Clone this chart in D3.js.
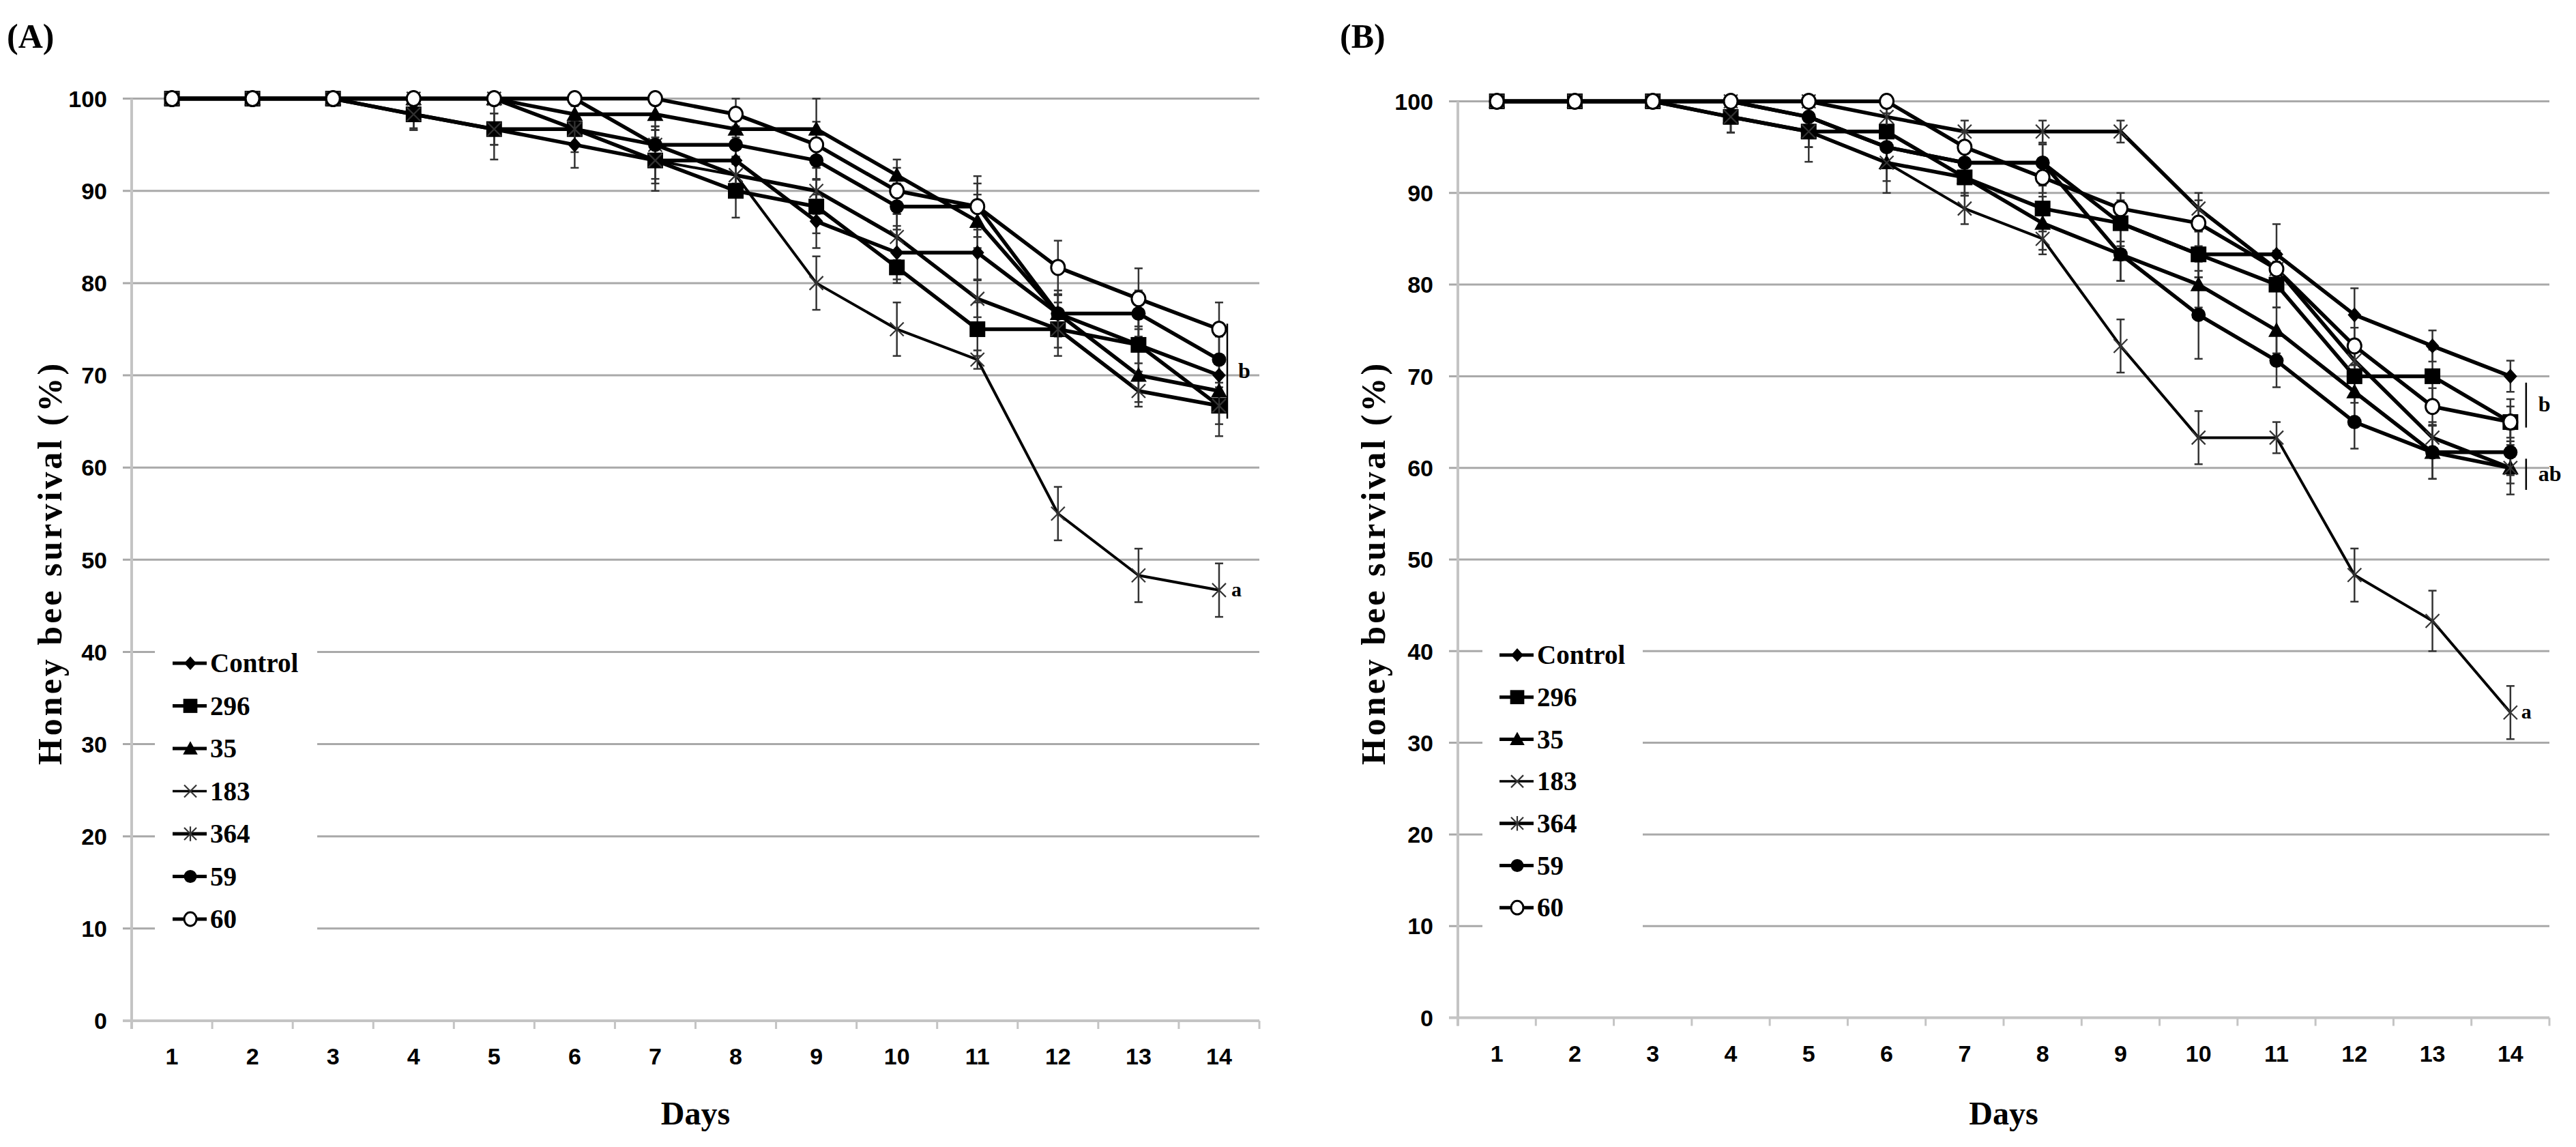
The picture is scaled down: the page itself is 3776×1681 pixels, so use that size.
<!DOCTYPE html>
<html><head><meta charset="utf-8">
<script src="https://cdn.jsdelivr.net/npm/d3@7"></script>
<style>body{margin:0;background:#fff} svg{display:block}</style>
</head><body><svg id="c" width="3776" height="1681"></svg>
<script>
// ---------- DATA ----------
const days = [1,2,3,4,5,6,7,8,9,10,11,12,13,14];
const yTicks = [0,10,20,30,40,50,60,70,80,90,100];
const seriesNames = ["Control","296","35","183","364","59","60"];

// Panel A survival (%)
const A_Control = [100,100,100,98.3,96.7,95,93.3,93.3,86.7,83.3,83.3,76.7,73.3,70];
const A_296     = [100,100,100,98.3,96.7,96.7,93.3,90,88.3,81.7,75,75,73.3,66.7];
const A_35      = [100,100,100,100,100,98.3,98.3,96.7,96.7,91.7,86.7,76.7,70,68.3];
const A_183     = [100,100,100,98.3,96.7,96.7,93.3,91.7,80,75,71.7,55,48.3,46.7];
const A_364     = [100,100,100,100,100,96.7,95,91.7,90,85,78.3,75,68.3,66.7];
const A_59      = [100,100,100,100,100,100,95,95,93.3,88.3,88.3,76.7,76.7,71.7];
const A_60      = [100,100,100,100,100,100,100,98.3,95,90,88.3,81.7,78.3,75];
// Panel A error (SE)
const A_Control_err = [0,0,0,1.7,1.7,2.5,2.5,2.5,2.9,2.9,2.9,2.0,2.0,1.7];
const A_296_err     = [0,0,0,1.5,3.3,2.5,3.3,2.9,2.9,1.7,2.9,2.9,2.9,3.3];
const A_35_err      = [0,0,0,0,0,1.7,1.7,1.7,3.3,1.7,2.9,2.0,2.9,2.0];
const A_183_err     = [0,0,0,1.7,1.7,1.7,2.0,2.0,2.9,2.9,1.0,2.9,2.9,2.9];
const A_364_err     = [0,0,0,0,0,1.7,2.0,2.0,2.5,2.5,2.0,2.0,1.7,2.0];
const A_59_err      = [0,0,0,0,0,0,2.0,2.0,2.0,2.5,2.5,2.5,2.5,2.5];
const A_60_err      = [0,0,0,0,0,0,0,1.7,2.5,2.5,3.3,2.9,3.3,2.9];

// Panel B survival (%)
const B_Control = [100,100,100,100,98.3,95,93.3,93.3,86.7,83.3,83.3,76.7,73.3,70];
const B_296     = [100,100,100,98.3,96.7,96.7,91.7,88.3,86.7,83.3,80,70,70,65];
const B_35      = [100,100,100,98.3,96.7,93.3,91.7,86.7,83.3,80,75,68.3,61.7,60];
const B_183     = [100,100,100,98.3,96.7,93.3,88.3,85,73.3,63.3,63.3,48.3,43.3,33.3];
const B_364     = [100,100,100,100,100,98.3,96.7,96.7,96.7,88.3,81.7,71.7,63.3,60];
const B_59      = [100,100,100,100,98.3,95,93.3,93.3,83.3,76.7,71.7,65,61.7,61.7];
const B_60      = [100,100,100,100,100,100,95,91.7,88.3,86.7,81.7,73.3,66.7,65];
// Panel B error (SE)
const B_Control_err = [0,0,0,0,1.7,1.7,2.0,2.0,2.0,2.5,3.3,2.9,1.7,1.7];
const B_296_err     = [0,0,0,1.7,3.3,2.0,2.0,2.5,2.5,2.5,2.5,2.9,2.9,2.5];
const B_35_err      = [0,0,0,1.7,1.7,3.3,2.0,2.9,2.9,2.5,2.5,2.9,2.9,2.9];
const B_183_err     = [0,0,0,1.7,1.7,2.0,1.7,1.7,2.9,2.9,1.7,2.9,3.3,2.9];
const B_364_err     = [0,0,0,0,0,1.7,1.2,1.2,1.2,1.7,1.7,1.7,1.7,1.7];
const B_59_err      = [0,0,0,0,1.7,1.7,2.0,2.0,2.9,4.8,2.9,2.9,2.9,2.5];
const B_60_err      = [0,0,0,0,0,0,1.7,1.7,1.7,2.5,2.0,2.0,2.0,1.7];

// significance groups: [label, upper value, lower value]
const A_sig = [["b",75.6,65.3]];
const B_sig = [["b",69.3,64.4],["ab",61.0,57.6]];
const A_sigLow = "a";
const B_sigLow = "a";

// ---------- BUILD ----------
const A_vals = [A_Control,A_296,A_35,A_183,A_364,A_59,A_60];
const A_errs = [A_Control_err,A_296_err,A_35_err,A_183_err,A_364_err,A_59_err,A_60_err];
const B_vals = [B_Control,B_296,B_35,B_183,B_364,B_59,B_60];
const B_errs = [B_Control_err,B_296_err,B_35_err,B_183_err,B_364_err,B_59_err,B_60_err];

const svg = d3.select("#c");
const SERIF = "'Liberation Serif','Times New Roman',serif";
const SANS = "'Liberation Sans Narrow','Liberation Sans',Arial,sans-serif";

const markerKind = {"Control":"diamond","296":"square","35":"triangle","183":"x","364":"star","59":"circle","60":"open"};

function drawMarker(g, kind, px, py, scale){
  const s = scale||1;
  if(kind==="diamond"){
    const r=11*s;
    g.append("path").attr("d",`M${px},${py-r}L${px+r*0.9},${py}L${px},${py+r}L${px-r*0.9},${py}Z`).attr("fill","#000");
  } else if(kind==="square"){
    const r=11.5*s;
    g.append("rect").attr("x",px-r).attr("y",py-r).attr("width",2*r).attr("height",2*r).attr("fill","#000");
  } else if(kind==="triangle"){
    const r=12*s;
    g.append("path").attr("d",`M${px},${py-r}L${px+r},${py+r*0.8}L${px-r},${py+r*0.8}Z`).attr("fill","#000");
  } else if(kind==="circle"){
    g.append("circle").attr("cx",px).attr("cy",py).attr("r",10.5*s).attr("fill","#000");
  } else if(kind==="open"){
    g.append("ellipse").attr("cx",px).attr("cy",py).attr("rx",10*s).attr("ry",11*s).attr("fill","#fff").attr("stroke","#000").attr("stroke-width",3);
  } else if(kind==="x"){
    const r=10*s;
    g.append("path").attr("d",`M${px-r},${py-r}L${px+r},${py+r}M${px-r},${py+r}L${px+r},${py-r}`).attr("stroke","#333").attr("stroke-width",2.2);
  } else if(kind==="star"){
    const r=10*s;
    g.append("path").attr("d",`M${px-r},${py-r}L${px+r},${py+r}M${px-r},${py+r}L${px+r},${py-r}M${px},${py-r*1.2}L${px},${py+r*1.2}`).attr("stroke","#333").attr("stroke-width",2.2);
  }
}

function drawPanel(cfg, vals, errs, sig, sigLow){
  const g = svg.append("g");
  const x = d3.scaleBand().domain(days).range([cfg.x0, cfg.x1]).padding(0);
  const y = d3.scaleLinear().domain([0,100]).range([cfg.y0, cfg.y100]);
  const cx = d => x(d) + x.bandwidth()/2;

  // gridlines
  g.selectAll(".grid").data(yTicks.filter(t=>t>0)).enter().append("line")
    .attr("x1",cfg.x0-13).attr("x2",cfg.x1).attr("y1",d=>y(d)).attr("y2",d=>y(d))
    .attr("stroke","#a9a9a9").attr("stroke-width",3);
  // axes
  g.append("line").attr("x1",cfg.x0-13).attr("x2",cfg.x1).attr("y1",y(0)).attr("y2",y(0))
    .attr("stroke","#c4c4c4").attr("stroke-width",4);
  g.append("line").attr("x1",cfg.x0).attr("x2",cfg.x0).attr("y1",y(100)).attr("y2",y(0)+12)
    .attr("stroke","#c4c4c4").attr("stroke-width",4);
  // x ticks at band edges
  g.selectAll(".xt").data(days.concat(["end"])).enter().append("line")
    .attr("x1",d=>d==="end"?cfg.x1:x(d)).attr("x2",d=>d==="end"?cfg.x1:x(d))
    .attr("y1",y(0)).attr("y2",y(0)+12).attr("stroke","#c4c4c4").attr("stroke-width",3);
  // tick labels
  g.selectAll(".yl").data(yTicks).enter().append("text")
    .attr("x",cfg.x0-36).attr("y",d=>y(d)).attr("dy","0.36em").attr("text-anchor","end")
    .attr("font-family",SANS).attr("font-weight","bold").attr("font-size",34).text(d=>d);
  g.selectAll(".xl").data(days).enter().append("text")
    .attr("x",d=>cx(d)).attr("y",y(0)+64).attr("text-anchor","middle")
    .attr("font-family",SANS).attr("font-weight","bold").attr("font-size",34).text(d=>d);
  // axis titles
  g.append("text").attr("x",(cfg.x0+cfg.x1)/2).attr("y",cfg.daysY).attr("text-anchor","middle")
    .attr("font-family",SERIF).attr("font-weight","bold").attr("font-size",48).text("Days");
  g.append("text").attr("transform",`translate(${cfg.titleX},${cfg.titleY}) rotate(-90)`)
    .attr("text-anchor","middle").attr("dy","0.35em")
    .attr("font-family",SERIF).attr("font-weight","bold").attr("font-size",50).attr("letter-spacing",4)
    .text("Honey bee survival (%)");
  g.append("text").attr("x",cfg.labelX).attr("y",70)
    .attr("font-family",SERIF).attr("font-weight","bold").attr("font-size",50).text(cfg.label);

  // legend (white box hides gridlines)
  g.append("rect").attr("x",cfg.legX0).attr("y",cfg.legY0-45).attr("width",cfg.legX1-cfg.legX0)
    .attr("height",cfg.legStep*7+30).attr("fill","#fff");
  seriesNames.forEach((nm,i)=>{
    const ly = cfg.legY0 + i*cfg.legStep;
    g.append("line").attr("x1",cfg.legLine).attr("x2",cfg.legLine+50).attr("y1",ly).attr("y2",ly)
      .attr("stroke","#000").attr("stroke-width",nm==="183"?3.5:5);
    drawMarker(g, markerKind[nm], cfg.legLine+26, ly, 0.9);
    g.append("text").attr("x",cfg.legLine+55).attr("y",ly).attr("dy","0.34em")
      .attr("font-family",SERIF).attr("font-weight","bold").attr("font-size",39).text(nm);
  });

  // series lines
  const line = d3.line().x((v,i)=>cx(days[i])).y(v=>y(v));
  vals.forEach((arr,k)=>{
    g.append("path").attr("d",line(arr)).attr("fill","none").attr("stroke","#000")
      .attr("stroke-width",seriesNames[k]==="183"?4:5.5).attr("stroke-linejoin","round");
  });
  // error bars
  vals.forEach((arr,k)=>{
    arr.forEach((v,i)=>{
      const e = errs[k][i]; if(!e) return;
      const px = cx(days[i]);
      const eg = g.append("g").attr("stroke","#333").attr("stroke-width",2.5);
      eg.append("line").attr("x1",px).attr("x2",px).attr("y1",y(v+e)).attr("y2",y(v-e));
      eg.append("line").attr("x1",px-6).attr("x2",px+6).attr("y1",y(v+e)).attr("y2",y(v+e));
      eg.append("line").attr("x1",px-6).attr("x2",px+6).attr("y1",y(v-e)).attr("y2",y(v-e));
    });
  });
  // markers
  vals.forEach((arr,k)=>{
    arr.forEach((v,i)=> drawMarker(g, markerKind[seriesNames[k]], cx(days[i]), y(v), 1));
  });

  // significance
  const lastX = cx(days[days.length-1]);
  sig.forEach(s=>{
    g.append("line").attr("x1",lastX+cfg.sigDx).attr("x2",lastX+cfg.sigDx)
      .attr("y1",y(s[1])).attr("y2",y(s[2])).attr("stroke","#000").attr("stroke-width",2.5);
    g.append("text").attr("x",lastX+cfg.sigDx+cfg.sigTx).attr("y",(y(s[1])+y(s[2]))/2).attr("dy","0.3em")
      .attr("font-family",SERIF).attr("font-weight","bold").attr("font-size",32).text(s[0]);
  });
  const low = vals[3][vals[3].length-1];
  g.append("text").attr("x",lastX+cfg.lowDx).attr("y",y(low)).attr("dy","0.3em")
    .attr("font-family",SERIF).attr("font-weight","bold").attr("font-size",30).text(sigLow);
}

drawPanel({x0:193,x1:1846,y0:1496,y100:144.6,label:"(A)",labelX:10,titleX:72,titleY:825,daysY:1648,
  legX0:227,legX1:465,legY0:972,legStep:62.5,legLine:253,sigDx:12,sigTx:16,lowDx:18},
  A_vals,A_errs,A_sig,A_sigLow);
drawPanel({x0:2137,x1:3737,y0:1491.5,y100:148.5,label:"(B)",labelX:1964,titleX:2012,titleY:825,daysY:1648,
  legX0:2173,legX1:2408,legY0:960,legStep:61.7,legLine:2198,sigDx:23,sigTx:18,lowDx:16},
  B_vals,B_errs,B_sig,B_sigLow);
</script></body></html>
